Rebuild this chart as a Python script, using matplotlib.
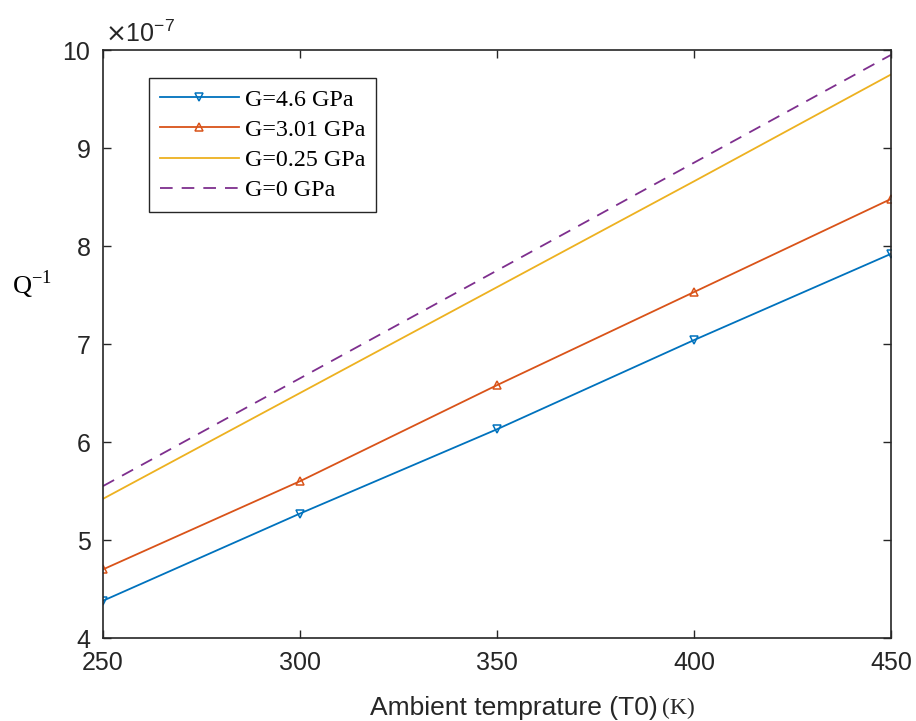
import matplotlib
matplotlib.use("Agg")
import matplotlib.pyplot as plt

# data (values in units of 1e-7)
temps = [250, 300, 350, 400, 450]
q_g46 = [4.38, 5.27, 6.13, 7.04, 7.92]
q_g301 = [4.70, 5.60, 6.58, 7.53, 8.48]
q_g025 = [5.42, 6.50, 7.58, 8.66, 9.75]
q_g0 = [5.55, 6.65, 7.75, 8.85, 9.95]
labels = ["G=4.6 GPa", "G=3.01 GPa", "G=0.25 GPa", "G=0 GPa"]

xticks = [250, 300, 350, 400, 450]
yticks = [4, 5, 6, 7, 8, 9, 10]

blue = (0, 0.447, 0.741)
orange = (0.85, 0.325, 0.098)
yellow = (0.929, 0.694, 0.125)
purple = (0.494, 0.184, 0.556)
axcol = "#262626"

plt.rcParams['font.family'] = ['Liberation Sans', 'DejaVu Sans']

fig = plt.figure(figsize=(9.16, 7.21), dpi=100)
ax = fig.add_axes([103/916, 1-638/721, (891-103)/916, (638-50)/721])

ax.plot(temps, q_g46, color=blue, lw=1.3, marker='v', ms=6, mfc='none', mew=1.1, label=labels[0])
ax.plot(temps, q_g301, color=orange, lw=1.3, marker='^', ms=6, mfc='none', mew=1.1, label=labels[1])
ax.plot(temps, q_g025, color=yellow, lw=1.3, label=labels[2])
ax.plot(temps, q_g0, color=purple, lw=1.3, ls=(0, (7, 5)), label=labels[3])

ax.set_xlim(250, 450)
ax.set_ylim(4, 10)
ax.set_xticks(xticks)
ax.set_yticks(yticks)
ax.tick_params(direction='in', top=True, right=True, length=6, width=1,
               labelsize=18, colors=axcol, pad=9)
for s in ax.spines.values():
    s.set_color(axcol)
    s.set_linewidth(1.2)

leg = ax.legend(loc='upper left', bbox_to_anchor=((149-103)/788, 1-(78-50)/588),
                prop={'family': 'Liberation Serif', 'size': 17.3},
                frameon=True, fancybox=False, edgecolor=axcol, framealpha=1,
                handlelength=3.3, handletextpad=0.25, labelspacing=0.35,
                borderpad=0.45, borderaxespad=0)
leg.get_frame().set_linewidth(1.0)

# exponent label
fig.text(105/916, 1-42/721, r'$\times\mathregular{10^{-7}}$', fontsize=18,
         color=axcol, ha='left', va='baseline')

# axis labels
fig.text(658/916, 1-708/721, 'Ambient temprature (T0)', fontsize=19,
         color=axcol, ha='right', va='center')
fig.text(662/916, 1-708/721, '(K)', fontsize=17, family='Liberation Serif',
         color=axcol, ha='left', va='center')
fig.text(12/916, 1-285/721, r'Q$^{\mathregular{-1}}$', fontsize=19,
         family='Liberation Serif', color='black', ha='left', va='center')

fig.savefig('out.png', dpi=100)
